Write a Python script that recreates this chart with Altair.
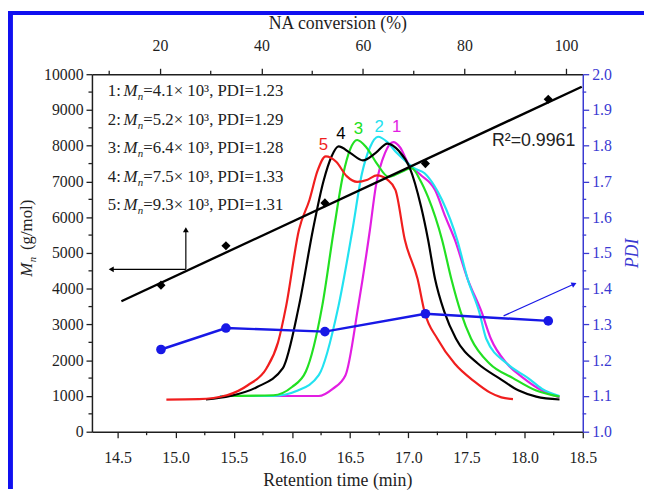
import altair as alt
import pandas as pd

# ---------------- data ----------------
# GPC traces: retention time (min) and signal plotted on the Mn axis
t1 = [15.50, 15.90, 16.23, 16.35, 16.46, 16.57, 16.67, 16.72, 16.80, 16.87, 16.93, 17.00, 17.10, 17.23, 17.32, 17.40, 17.51, 17.63, 17.71, 17.85, 17.99, 18.15, 18.30]
v1 = [1000, 1000, 1000, 1200, 1580, 3520, 5650, 6850, 7800, 8100, 7950, 7500, 7200, 6760, 6000, 5370, 4270, 3350, 2600, 1900, 1500, 1150, 960]
t2 = [15.38, 15.84, 16.05, 16.23, 16.40, 16.52, 16.60, 16.67, 16.74, 16.82, 16.90, 16.97, 17.05, 17.14, 17.22, 17.29, 17.42, 17.51, 17.61, 17.67, 17.85, 18.03, 18.15, 18.30]
v2 = [1000, 1000, 1150, 1580, 3520, 5650, 7200, 7950, 8250, 8100, 7800, 7590, 7370, 7230, 6900, 6480, 5370, 4270, 3350, 2600, 1900, 1500, 1200, 1000]
t3 = [15.40, 15.84, 16.00, 16.12, 16.26, 16.36, 16.44, 16.50, 16.56, 16.64, 16.73, 16.83, 16.93, 17.03, 17.10, 17.17, 17.29, 17.37, 17.45, 17.54, 17.70, 17.90, 18.10, 18.30]
v3 = [1000, 1020, 1250, 1690, 3520, 5650, 7200, 7900, 8160, 7950, 7500, 7130, 7250, 7370, 7050, 6560, 5370, 4270, 3350, 2600, 1900, 1500, 1150, 980]
t4 = [15.26, 15.47, 15.70, 15.92, 16.06, 16.18, 16.27, 16.34, 16.40, 16.50, 16.61, 16.72, 16.82, 16.92, 17.01, 17.11, 17.17, 17.23, 17.31, 17.41, 17.60, 17.78, 17.95, 18.10, 18.30]
v4 = [900, 1000, 1250, 1770, 3520, 5650, 7000, 7700, 7980, 7800, 7590, 7800, 8060, 7850, 7400, 6290, 5370, 4270, 3350, 2600, 1900, 1500, 1150, 980, 900]
t5 = [14.92, 15.20, 15.44, 15.62, 15.78, 15.88, 15.95, 16.06, 16.15, 16.22, 16.29, 16.38, 16.47, 16.56, 16.65, 16.73, 16.82, 16.89, 16.97, 17.08, 17.14, 17.25, 17.40, 17.57, 17.70, 17.80, 17.90]
v5 = [900, 910, 1020, 1300, 1770, 2500, 3520, 5650, 6480, 7300, 7700, 7550, 7150, 6990, 7050, 7170, 7050, 6760, 5370, 4270, 3350, 2600, 1900, 1400, 1100, 960, 910]

curve_ids = ["1", "2", "3", "4", "5"]
curve_colors = ["#e21ee2", "#22e2f0", "#22e022", "#000000", "#f01e1e"]
peak_t = [16.90, 16.75, 16.57, 16.42, 16.27]
peak_v = [8510, 8510, 8470, 8330, 8005]

# NA conversion (%), Mn (g/mol) and PDI
conv = [20.2, 33.0, 52.5, 72.3, 96.5]
mn = [4100, 5200, 6400, 7500, 9300]
pdi = [1.23, 1.29, 1.28, 1.33, 1.31]
fit_conv = [12.4, 103.1]
fit_mn = [3650, 9650]
r2_label = "R\u00b2=0.9961"

# axis ticks
bottom_ticks = [14.5, 15.0, 15.5, 16.0, 16.5, 17.0, 17.5, 18.0, 18.5]
bottom_minor = [14.75, 15.25, 15.75, 16.25, 16.75, 17.25, 17.75, 18.25]
left_ticks = [0, 1000, 2000, 3000, 4000, 5000, 6000, 7000, 8000, 9000, 10000]
left_minor = [500, 1500, 2500, 3500, 4500, 5500, 6500, 7500, 8500, 9500]
top_ticks = [20, 40, 60, 80, 100]
top_minor = [10, 30, 50, 70, 90]
right_ticks = [1.0, 1.1, 1.2, 1.3, 1.4, 1.5, 1.6, 1.7, 1.8, 1.9, 2.0]
right_minor = [1.05, 1.15, 1.25, 1.35, 1.45, 1.55, 1.65, 1.75, 1.85, 1.95]

# ---------------- layout / style ----------------
W, H = 497, 362
SERIF = "Liberation Serif"
SANS = "Liberation Sans"
INK = "#1e1e1e"
AXBLUE = "#3a3ad2"
PBLUE = "#1818e6"

rows = []
for cid, ts, vs in zip(curve_ids, [t1, t2, t3, t4, t5], [v1, v2, v3, v4, v5]):
    for i, (t, v) in enumerate(zip(ts, vs)):
        rows.append({"curve": cid, "t": t, "v": v, "i": i})
gpc = pd.DataFrame(rows)

xt = alt.Scale(domain=[14.28, 18.5], nice=False, zero=False)
ym = alt.Scale(domain=[0, 10000], nice=False, zero=False)
xc = alt.Scale(domain=[6.6, 103.3], nice=False, zero=False)
yp = alt.Scale(domain=[1.0, 2.0], nice=False, zero=False)

common = dict(grid=False, labelFont=SERIF, labelFontSize=16, titleFont=SERIF,
              titleFontSize=18, titleFontWeight="normal", tickSize=6, tickWidth=1.3,
              domainWidth=1.5, labelFlush=False, labelOverlap=False, labelBound=False)

ax_bottom = alt.Axis(orient="bottom", values=bottom_ticks, format=".1f",
                     title="Retention time (min)", titleY=49, titleBaseline="middle",
                     labelColor=INK, titleColor=INK, tickColor=INK, domainColor=INK,
                     labelPadding=12, **common)
ax_left = alt.Axis(orient="left", values=left_ticks, format="d", title=None,
                   labelColor=INK, tickColor=INK, domainColor=INK, labelPadding=3, **common)
ax_top = alt.Axis(orient="top", values=top_ticks, format="d", title="NA conversion (%)",
                  titleY=-51, titleBaseline="middle",
                  labelColor=INK, titleColor=INK, tickColor=INK, domainColor=INK,
                  labelPadding=15, **common)
ax_right = alt.Axis(orient="right", values=right_ticks, format=".1f", title="PDI",
                    titleFontStyle="italic", titleAngle=270, titleX=50, titleBaseline="middle",
                    labelColor=AXBLUE, titleColor=AXBLUE, tickColor=AXBLUE, domainColor=AXBLUE,
                    labelPadding=3, **common)

color = alt.Color("curve:N", scale=alt.Scale(domain=curve_ids, range=curve_colors), legend=None)

# ---- layer A: GPC traces (bottom / left axes)
XA = alt.X("t:Q", scale=xt, axis=ax_bottom)
YA = alt.Y("v:Q", scale=ym, axis=ax_left)
curves = alt.Chart(gpc).mark_line(strokeWidth=2.2, interpolate="monotone").encode(
    x=XA, y=YA, color=color, detail="curve:N", order="i:Q")
peaks = alt.Chart(pd.DataFrame({"curve": curve_ids, "t": peak_t, "v": peak_v})).mark_text(
    font=SANS, fontSize=17, baseline="middle").encode(x=XA, y=YA, text="curve:N", color=color)
bm = alt.Chart(pd.DataFrame({"t": bottom_minor})).mark_rule(color=INK, strokeWidth=1.3).encode(
    x=XA, y=alt.value(H), y2=alt.value(H + 3.5))
lm = alt.Chart(pd.DataFrame({"v": left_minor})).mark_rule(color=INK, strokeWidth=1.3).encode(
    y=YA, x=alt.value(0), x2=alt.value(-3.5))
layer_a = alt.layer(curves, peaks, bm, lm)

# ---- layer B: Mn vs conversion
XB = alt.X("conv:Q", scale=xc, axis=None)
YB = alt.Y("mn:Q", scale=ym, axis=None)
fit = alt.Chart(pd.DataFrame({"conv": fit_conv, "mn": fit_mn})).mark_line(
    color="black", strokeWidth=2.4).encode(x=XB, y=YB)
dia = alt.Chart(pd.DataFrame({"conv": conv, "mn": mn})).mark_point(
    shape="diamond", filled=True, size=85, color="black", opacity=1).encode(x=XB, y=YB)
r2 = alt.Chart(pd.DataFrame({"conv": [85.4], "mn": [8130], "txt": [r2_label]})).mark_text(
    font=SANS, fontSize=18, align="left", baseline="middle", color="#222").encode(
    x=XB, y=YB, text="txt:N")
arr = pd.DataFrame({"conv": [25.1, 25.1], "mn": [4543, 4543],
                    "conv2": [25.1, 10.4], "mn2": [5650, 4543]})
arrows = alt.Chart(arr).mark_rule(color="black", strokeWidth=1.2).encode(
    x=XB, y=YB, x2="conv2:Q", y2="mn2:Q")
heads = alt.Chart(pd.DataFrame({"conv": [25.1, 10.4], "mn": [5650, 4543], "ang": [0, 270]})).mark_point(
    shape="triangle-up", filled=True, size=35, color="black", opacity=1).encode(
    x=XB, y=YB, angle=alt.Angle("ang:Q", scale=None))
tm = alt.Chart(pd.DataFrame({"conv": top_minor})).mark_rule(color=INK, strokeWidth=1.3).encode(
    x=XB, y=alt.value(0), y2=alt.value(-3.5))
layer_b = alt.layer(fit, dia, r2, arrows, heads, tm)

# ---- layer C: PDI vs conversion (top / right axes)
XC = alt.X("conv:Q", scale=xc, axis=ax_top)
YC = alt.Y("pdi:Q", scale=yp, axis=ax_right)
pdf = pd.DataFrame({"conv": conv, "pdi": pdi})
pl = alt.Chart(pdf).mark_line(color=PBLUE, strokeWidth=2.5).encode(x=XC, y=YC)
pp = alt.Chart(pdf).mark_circle(color=PBLUE, size=95, opacity=1).encode(x=XC, y=YC)
barr = alt.Chart(pd.DataFrame({"conv": [87.7], "pdi": [1.324], "conv2": [101.6], "pdi2": [1.413]})).mark_rule(
    color=PBLUE, strokeWidth=1.2).encode(x=XC, y=YC, x2="conv2:Q", y2="pdi2:Q")
bhead = alt.Chart(pd.DataFrame({"conv": [101.6], "pdi": [1.413], "ang": [66]})).mark_point(
    shape="triangle-up", filled=True, size=35, color=PBLUE, opacity=1).encode(
    x=XC, y=YC, angle=alt.Angle("ang:Q", scale=None))
rm = alt.Chart(pd.DataFrame({"pdi": right_minor})).mark_rule(color=AXBLUE, strokeWidth=1.3).encode(
    y=YC, x=alt.value(W), x2=alt.value(W + 3.5))
layer_c = alt.layer(pl, pp, barr, bhead, rm)

# ---- layer D: annotation text in pixel positions
nums = ["1:", "2:", "3:", "4:", "5:"]
rest = [f"={m / 1000:.1f}\u00d7 10\u00b3, PDI={p:.2f}" for m, p in zip(mn, pdi)]
leg = pd.DataFrame({"row": [0, 1, 2, 3, 4], "num": nums, "rest": rest})
leg_base = alt.Chart(leg).transform_calculate(ypix="17 + 29 * datum.row")
YL = alt.Y("ypix:Q", scale=None, axis=None)
tstyle = dict(font=SERIF, fontSize=17, align="left", baseline="middle", color="#222")
l_num = leg_base.mark_text(**tstyle).encode(x=alt.value(16), y=YL, text="num:N")
l_M = leg_base.mark_text(text="M", fontStyle="italic", **tstyle).encode(x=alt.value(32), y=YL)
l_n = leg_base.mark_text(text="n", fontStyle="italic", dy=6, **{**tstyle, "fontSize": 11}).encode(
    x=alt.value(46.5), y=YL)
l_rest = leg_base.mark_text(**tstyle).encode(x=alt.value(52), y=YL, text="rest:N")

one = pd.DataFrame({"a": [0]})
rot = dict(font=SERIF, angle=270, align="left", baseline="middle", color="#222")
yt_M = alt.Chart(one).mark_text(text="M", fontSize=17, fontStyle="italic", **rot).encode(
    x=alt.value(-66), y=alt.value(205))
yt_n = alt.Chart(one).mark_text(text="n", fontSize=11, fontStyle="italic", **rot).encode(
    x=alt.value(-60), y=alt.value(190.5))
yt_rest = alt.Chart(one).mark_text(text="(g/mol)", fontSize=17, **rot).encode(
    x=alt.value(-66), y=alt.value(178))
frame_l = alt.Chart(one).mark_rule(color="#1010f0", strokeWidth=5).encode(
    x=alt.value(-82.5), y=alt.value(-64), y2=alt.value(H + 58))
frame_t = alt.Chart(one).mark_rule(color="#1010f0", strokeWidth=4).encode(
    x=alt.value(-85), x2=alt.value(W + 62), y=alt.value(-62))
layer_d = alt.layer(l_num, l_M, l_n, l_rest, yt_M, yt_n, yt_rest, frame_l, frame_t)

chart = alt.layer(layer_a, layer_b, layer_c, layer_d).resolve_scale(
    x="independent", y="independent"
).properties(
    width=W, height=H,
    padding={"left": 85, "top": 64, "right": 62, "bottom": 58},
    autosize=alt.AutoSizeParams(type="none"),
    background="white",
).configure_view(stroke=None)

chart.save("out.html", embed_options={"renderer": "svg", "actions": False})
